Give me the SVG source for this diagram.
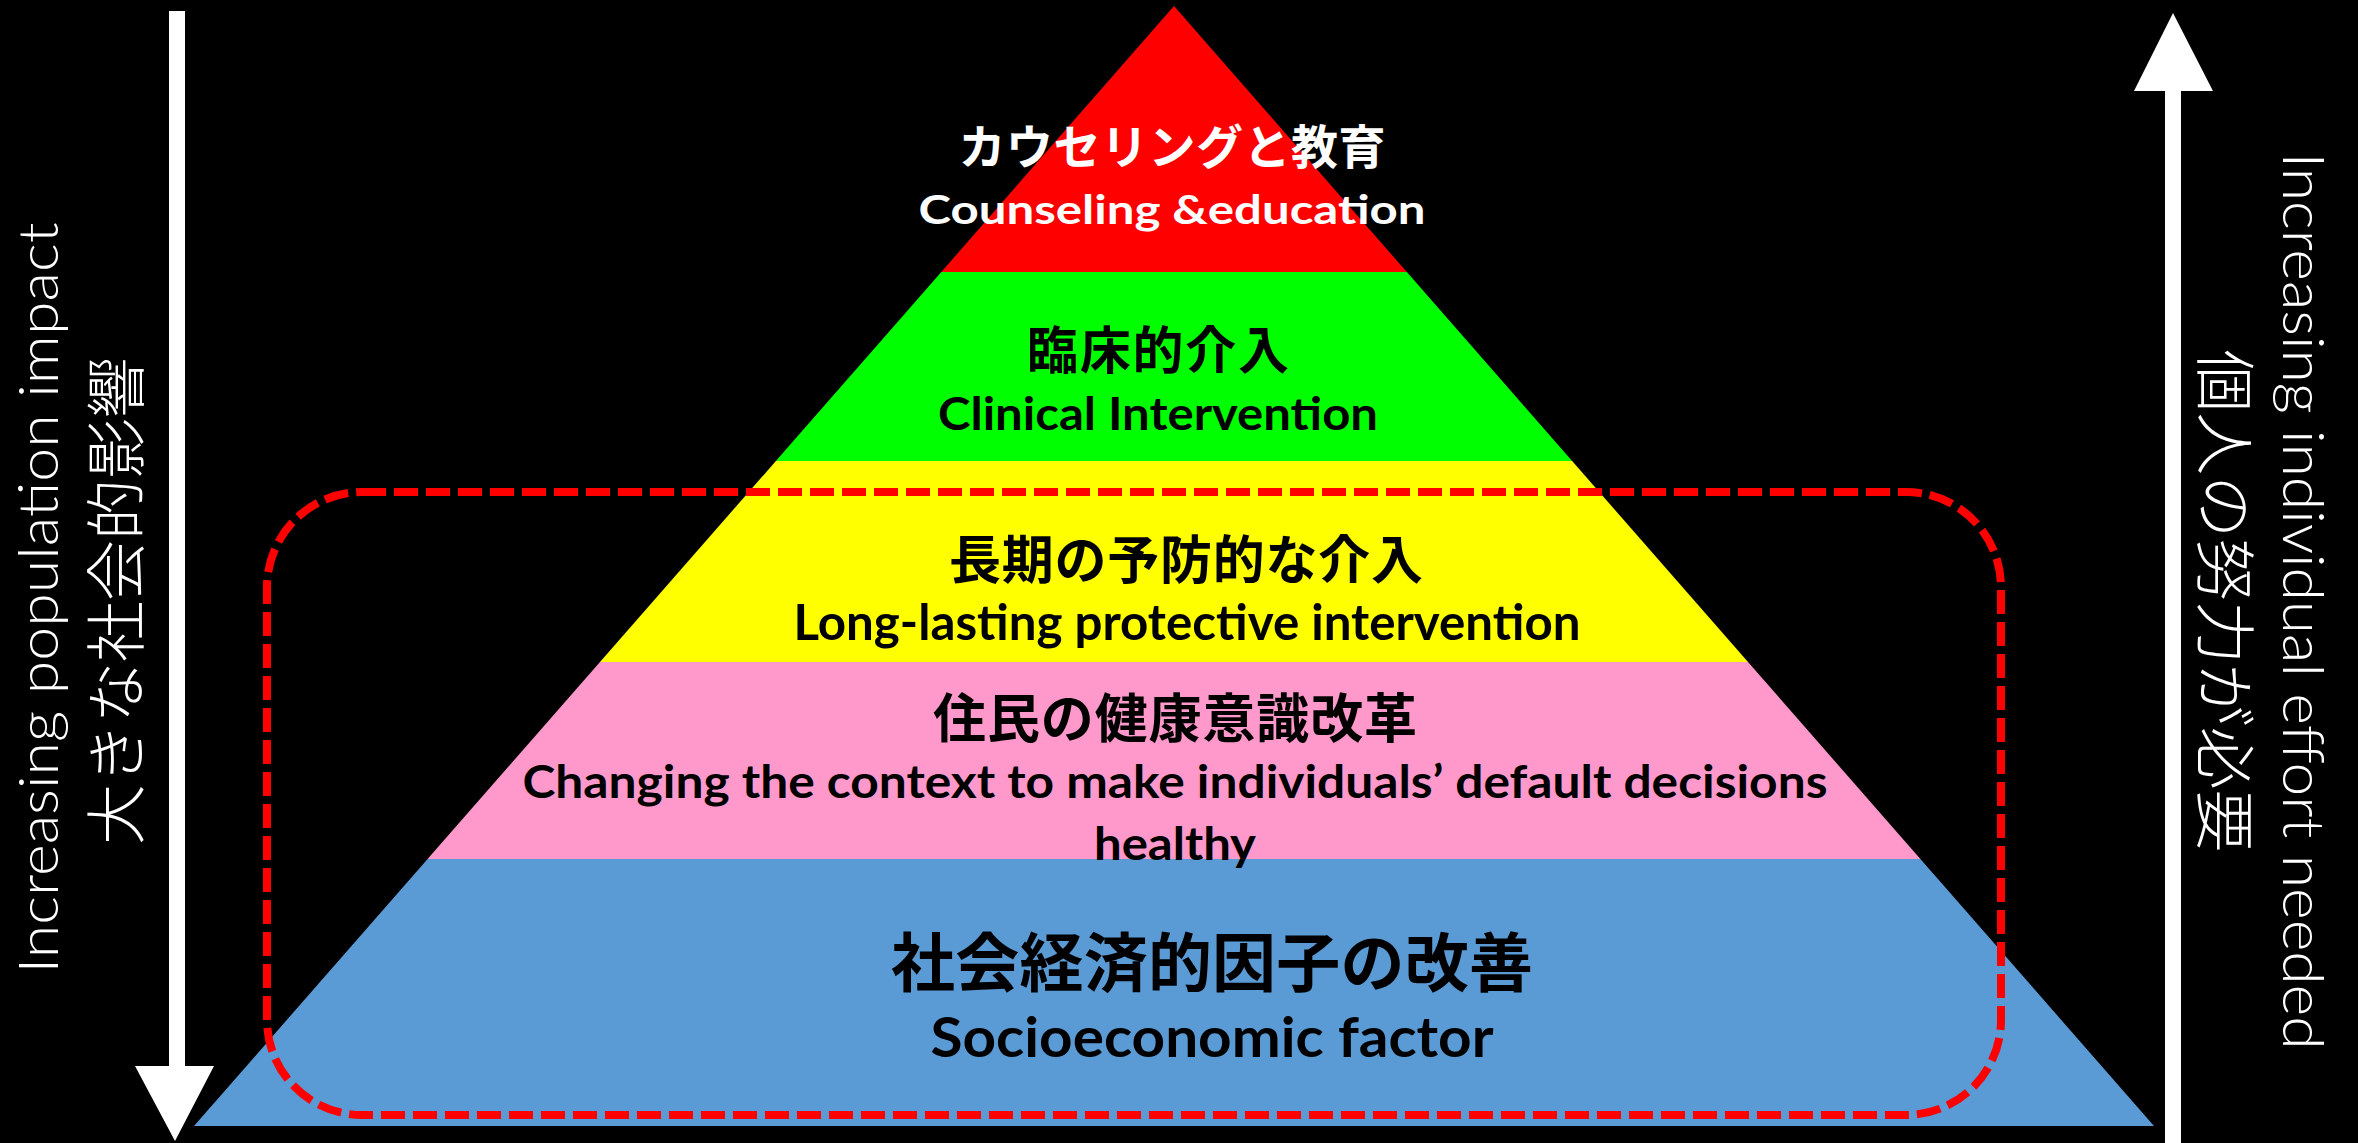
<svg xmlns="http://www.w3.org/2000/svg" width="2358" height="1143" viewBox="0 0 2358 1143">
  <style>
    .jp { font-family: "Noto Sans CJK JP", "Noto Sans", sans-serif; font-weight: 700; text-anchor: middle; }
    .en { font-family: Lato, "Liberation Sans", sans-serif; font-weight: 700; text-anchor: middle; }
    .side-en { font-family: Lato, "Liberation Sans", sans-serif; font-weight: 300; fill: #FFFFFF; text-anchor: middle; }
    .side-jp { font-family: "Noto Sans CJK JP", sans-serif; font-weight: 300; fill: #FFFFFF; text-anchor: middle; dominant-baseline: central; }
    .arrow { fill: #FFFFFF; }
    .focus { fill: none; stroke: #FF0000; stroke-width: 8; stroke-dasharray: 24 8; }
  </style>

  <rect x="0" y="0" width="2358" height="1143" fill="#000000"/>

  <!-- Pyramid tiers, apex (1174,6), base y=1126 -->
  <g id="tier-socioeconomic">
    <polygon points="427.6,859 1920.4,859 2154,1126 194,1126" fill="#5B9BD5"/>
    <text class="jp" x="1212" y="986" font-size="64" textLength="642" fill="#000000">社会経済的因子の改善</text>
    <text class="en" x="1212" y="1057" font-size="56" textLength="563" lengthAdjust="spacingAndGlyphs" fill="#000000">Socioeconomic factor</text>
  </g>

  <g id="tier-context">
    <polygon points="600,662 1748,662 1920.4,859 427.6,859" fill="#FF99CC"/>
    <text class="jp" x="1175" y="738" font-size="53" textLength="484" fill="#000000">住民の健康意識改革</text>
    <text class="en" x="1175" y="798" font-size="45" textLength="1305" lengthAdjust="spacingAndGlyphs" fill="#000000">Changing the context to make individuals’ default decisions</text>
    <text class="en" x="1175" y="860" font-size="45" textLength="162" lengthAdjust="spacingAndGlyphs" fill="#000000">healthy</text>
  </g>

  <g id="tier-protective">
    <polygon points="775.9,461 1572.1,461 1748,662 600,662" fill="#FFFF00"/>
    <text class="jp" x="1186" y="579" font-size="52" textLength="474" fill="#000000">長期の予防的な介入</text>
    <text class="en" x="1187" y="640" font-size="49" textLength="787" lengthAdjust="spacingAndGlyphs" fill="#000000">Long-lasting protective intervention</text>
  </g>

  <g id="tier-clinical">
    <polygon points="941.3,272 1406.8,272 1572.1,461 775.9,461" fill="#00FF00"/>
    <text class="jp" x="1158" y="369" font-size="51" textLength="262" fill="#000000">臨床的介入</text>
    <text class="en" x="1158" y="430" font-size="46" textLength="440" lengthAdjust="spacingAndGlyphs" fill="#000000">Clinical Intervention</text>
  </g>

  <g id="tier-counseling">
    <polygon points="1174,6 1406.8,272 941.3,272" fill="#FF0000"/>
    <text class="jp" x="1172" y="164" font-size="47" textLength="427" fill="#FFFFFF">カウセリングと教育</text>
    <text class="en" x="1172" y="224" font-size="41" textLength="507" lengthAdjust="spacingAndGlyphs" fill="#FFFFFF">Counseling &amp;education</text>
  </g>

  <!-- Dashed frame around the three lower tiers -->
  <g id="focus-frame">
    <rect class="focus" x="267" y="492" width="1734" height="623" rx="95" ry="95"/>
  </g>

  <!-- Side arrows -->
  <g id="connectors">
    <g id="arrow-population">
      <polygon class="arrow" points="169,11 185,11 185,1066 214,1066 175,1141 135,1066 169,1066"/>
    </g>
    <g id="arrow-effort">
      <polygon class="arrow" points="2165,1143 2165,91 2134,91 2173,13 2213,91 2181,91 2181,1143"/>
    </g>
  </g>

  <g id="label-population">
    <text class="side-en" transform="translate(58,598) rotate(-90)" x="0" y="0" font-size="55" textLength="751" lengthAdjust="spacingAndGlyphs">Increasing population impact</text>
    <text class="side-jp" transform="translate(112,601) rotate(-90)" x="0" y="0" font-size="61" textLength="488" lengthAdjust="spacingAndGlyphs">大きな社会的影響</text>
  </g>

  <g id="label-effort">
    <text class="side-en" transform="translate(2283,601) rotate(90)" x="0" y="0" font-size="58" textLength="897" lengthAdjust="spacingAndGlyphs">Increasing individual effort needed</text>
    <text class="side-jp" transform="translate(2228,601) rotate(90)" x="0" y="0" font-size="61" textLength="503" lengthAdjust="spacingAndGlyphs">個人の努力が必要</text>
  </g>
</svg>
